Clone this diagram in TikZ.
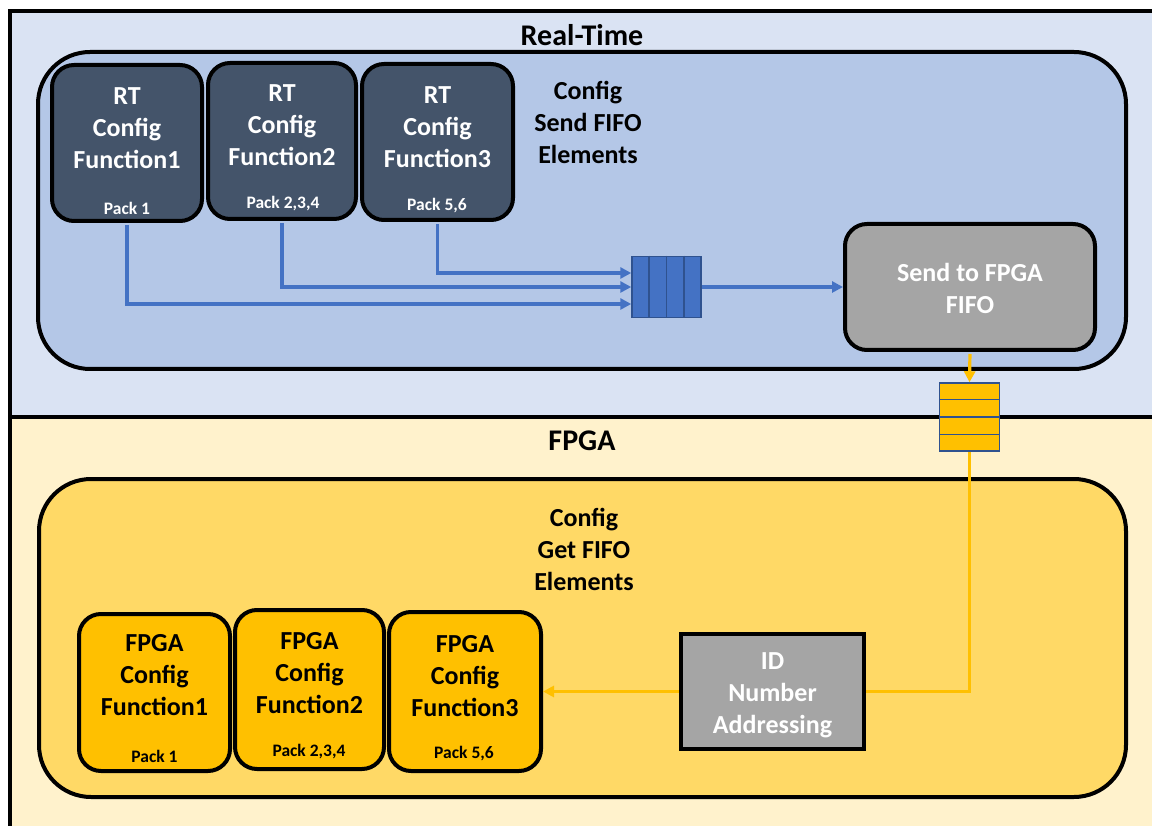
\documentclass[tikz,border=0pt]{standalone}
\usepackage{fontspec}
\setmainfont{Carlito}
\usetikzlibrary{arrows.meta,calc}

\definecolor{bandblue}{HTML}{DAE3F3}
\definecolor{panelblue}{HTML}{B4C7E7}
\definecolor{slate}{HTML}{44546A}
\definecolor{stone}{HTML}{A5A5A5}
\definecolor{linkblue}{HTML}{4472C4}
\definecolor{edgeblue}{HTML}{2F528F}
\definecolor{bandyellow}{HTML}{FFF2CC}
\definecolor{panelyellow}{HTML}{FFD966}
\definecolor{gold}{HTML}{FFC000}

\tikzset{
  panel/.style={draw=black, line width=4pt, rounded corners=52pt, inner sep=0pt},
  funcbox/.style={draw=black, line width=4pt, rounded corners=22pt, inner sep=0pt},
  rtbox/.style={funcbox, fill=slate},
  fpgabox/.style={funcbox, fill=gold},
  graybox/.style={draw=black, line width=4pt, fill=stone, inner sep=0pt},
  bigtext/.style={align=center, inner sep=0pt, font=\fontsize{26}{32}\selectfont\bfseries},
  packtext/.style={inner sep=0pt, font=\fontsize{17.5}{20}\selectfont\bfseries},
  titletext/.style={inner sep=0pt, font=\fontsize{30}{36}\selectfont\bfseries},
  queue/.style={draw=edgeblue, line width=1.5pt, inner sep=0pt},
  qline/.style={draw=edgeblue, line width=1.3pt},
  bluelink/.style={draw=linkblue, line width=3.2pt, -{Triangle[length=11pt,width=11pt]}, shorten <=2pt},
  goldline/.style={draw=gold, line width=3.2pt},
  goldlink/.style={goldline, -{Triangle[length=11pt,width=11pt]}},
}

\begin{document}
\begin{tikzpicture}[x=1pt, y=-1pt]
\useasboundingbox (0,0) rectangle (1152,826);
\clip (0,0) rectangle (1152,826);

% two bands of the frame
\fill[bandblue] (9.5,11) rectangle (1170,417);
\fill[bandyellow] (9.5,417) rectangle (1170,840);
\draw[line width=4pt] (9.5,840) -- (9.5,11) -- (1170,11);
\draw[line width=4pt] (9.5,417) -- (1170,417);

% Real-Time side
\node[titletext] (rttitle) at (582,35) {Real-Time};
\node[panel, fill=panelblue, minimum width=1088pt, minimum height=317pt] (rtpanel) at (582,210.5) {};

\node[rtbox, minimum width=150pt, minimum height=156pt] (rt1) at (127,143) {};
\node[rtbox, minimum width=148pt, minimum height=156pt] (rt2) at (282,141) {};
\node[rtbox, minimum width=151pt, minimum height=156pt] (rt3) at (437.5,142) {};

\node[bigtext, text=white] (rt1t) at (127,128) {RT\\Config\\Function1};
\node[bigtext, text=white] (rt2t) at (282,125) {RT\\Config\\Function2};
\node[bigtext, text=white] (rt3t) at (437.5,127) {RT\\Config\\Function3};
\node[packtext, text=white] (rt1p) at (127,208) {Pack 1};
\node[packtext, text=white] (rt2p) at (283,204) {Pack 2,3,4};
\node[packtext, text=white] (rt3p) at (437,206) {Pack 5,6};

\node[bigtext] (sendlbl) at (588,122) {Config\\Send FIFO\\Elements};

\node[queue, fill=linkblue, minimum width=69pt, minimum height=61pt] (sendq) at (666.5,287) {};
\foreach \k in {1,2,3}
  \draw[qline] ($(sendq.north west)!\k/4!(sendq.north east)$) -- ($(sendq.south west)!\k/4!(sendq.south east)$);

\node[graybox, rounded corners=22pt, minimum width=250pt, minimum height=126pt] (send) at (970,287) {};
\node[bigtext, text=white] (sendt) at (970,288) {Send to FPGA\\FIFO};

\draw[bluelink] (rt1.south) |- ($(sendq.west)+(0,17)$);
\draw[bluelink] (rt2.south) |- (sendq.west);
\draw[bluelink] (rt3.south) |- ($(sendq.west)+(0,-14)$);
\draw[bluelink, shorten <=0pt] (sendq.east) -- (send.west);

% FPGA side
\node[titletext] (fpgatitle) at (582,441) {FPGA};
\node[panel, fill=panelyellow, minimum width=1087pt, minimum height=318pt] (fpgapanel) at (582.5,638) {};

\node[bigtext] (getlbl) at (584,549) {Config\\Get FIFO\\Elements};

\node[fpgabox, minimum width=151pt, minimum height=157pt] (f1) at (154.5,692.5) {};
\node[fpgabox, minimum width=149pt, minimum height=159pt] (f2) at (309.5,689.5) {};
\node[fpgabox, minimum width=152pt, minimum height=159pt] (f3) at (465,691.5) {};

\node[bigtext] (f1t) at (154.5,675) {FPGA\\Config\\Function1};
\node[bigtext] (f2t) at (309.5,673) {FPGA\\Config\\Function2};
\node[bigtext] (f3t) at (465,676) {FPGA\\Config\\Function3};
\node[packtext] (f1p) at (154.5,756) {Pack 1};
\node[packtext] (f2p) at (309,752) {Pack 2,3,4};
\node[packtext] (f3p) at (464,754) {Pack 5,6};

\node[graybox, minimum width=183pt, minimum height=115pt] (idbox) at (772.5,691.5) {};
\node[bigtext, text=white] (idt) at (772.5,695) {ID\\Number\\Addressing};

% FIFO between the two sides
\node[queue, fill=gold, minimum width=60pt, minimum height=68pt] (getq) at (969.5,417) {};
\foreach \k in {1,2,3}
  \draw[qline] ($(getq.north west)!\k/4!(getq.south west)$) -- ($(getq.north east)!\k/4!(getq.south east)$);

\draw[goldlink, shorten <=2pt] (send.south) -- (getq.north);
\draw[goldline] (getq.south) |- (idbox.east);
\draw[goldlink] (idbox.west) -- (f3.east |- idbox.west);

\end{tikzpicture}
\end{document}
